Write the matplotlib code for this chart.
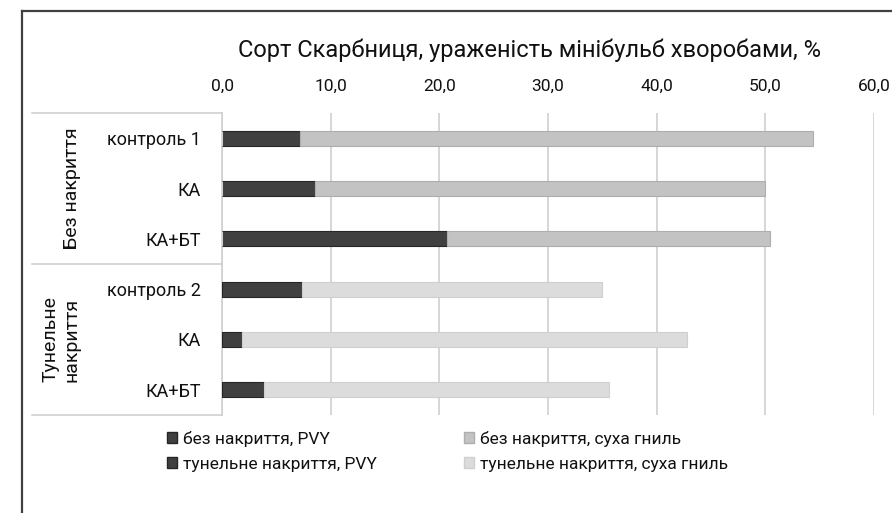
import matplotlib
matplotlib.use("Agg")
import matplotlib.pyplot as plt
from matplotlib.patches import Patch
from matplotlib.lines import Line2D
from matplotlib.ticker import FuncFormatter

plt.rcParams['font.family'] = ['Roboto', 'DejaVu Sans']

# дані: ураженість мінібульб, %
categories = ["контроль 1", "КА", "КА+БТ", "контроль 2", "КА", "КА+БТ"]
groups = ["Без накриття", "Тунельне\nнакриття"]
pvy_open = [7.2, 8.6, 20.7, 0, 0, 0]
rot_open = [47.2, 41.4, 29.7, 0, 0, 0]
pvy_tunnel = [0, 0, 0, 7.4, 1.8, 3.9]
rot_tunnel = [0, 0, 0, 27.6, 41.0, 31.7]
series_names = ["без накриття, PVY", "без накриття, суха гниль",
                "тунельне накриття, PVY", "тунельне накриття, суха гниль"]
xticks = [0, 10, 20, 30, 40, 50, 60]

W, H = 892, 513
fig = plt.figure(figsize=(W / 100, H / 100), dpi=100)
txt = "#111111"

# рамка зліва та зверху
fig.add_artist(Line2D([21.5 / W, 21.5 / W], [0, 1 - 11 / H], color="#404040", lw=1.6))
fig.add_artist(Line2D([21.5 / W, 1], [1 - 11 / H, 1 - 11 / H], color="#404040", lw=1.6))

ax = fig.add_axes([222 / W, 1 - 415 / H, 652 / W, 302 / H])

y = list(range(len(categories)))
h = 0.3
c_dark, c_mid, c_light = "#404040", "#c3c3c3", "#dcdcdc"

ax.barh(y, pvy_open, height=h, color=c_dark, edgecolor="#262626", lw=0.8, zorder=3)
ax.barh(y, rot_open, height=h, left=pvy_open, color=c_mid, edgecolor="#aeaeae", lw=0.8, zorder=3)
ax.barh(y, pvy_tunnel, height=h, color=c_dark, edgecolor="#262626", lw=0.8, zorder=3)
ax.barh(y, rot_tunnel, height=h, left=pvy_tunnel, color=c_light, edgecolor="#cfcfcf", lw=0.8, zorder=3)

ax.set_xlim(0, 60)
ax.set_ylim(len(categories) - 0.5, -0.5)
ax.set_xticks(xticks)
ax.xaxis.set_major_formatter(FuncFormatter(lambda v, p: f"{v:.1f}".replace(".", ",")))
ax.xaxis.tick_top()
ax.tick_params(axis="x", length=0, pad=14, labelsize=12.5, colors=txt)
ax.set_yticks(y)
ax.set_yticklabels(categories)
ax.tick_params(axis="y", length=0, pad=15, labelsize=13, colors=txt)
ax.grid(axis="x", color="#d0d0d0", lw=1.2, zorder=0)
for s in ["top", "right", "bottom"]:
    ax.spines[s].set_visible(False)
ax.spines["left"].set_color("#d0d0d0")
ax.spines["left"].set_linewidth(1.2)

# таблиця груп зліва
x0 = (32 - 222) / 652
for yy in [1, 0.5, 0]:
    ax.add_line(Line2D([x0, 0], [yy, yy], transform=ax.transAxes, color="#d0d0d0",
                       lw=1.2, clip_on=False))
ax.text((72 - 222) / 652, 0.75, groups[0], transform=ax.transAxes, rotation=90,
        ha="center", va="center", fontsize=14, color=txt)
ax.text((61 - 222) / 652, 0.25, groups[1], transform=ax.transAxes, rotation=90,
        ha="center", va="center", fontsize=14, color=txt, linespacing=1.25)

fig.text(529 / W, 1 - 50 / H, "Сорт Скарбниця, ураженість мінібульб хворобами, %",
         ha="center", va="center", fontsize=17, color=txt)

handles = [Patch(facecolor=c_dark, edgecolor="#262626"),
           Patch(facecolor=c_dark, edgecolor="#262626"),
           Patch(facecolor=c_mid, edgecolor="#aeaeae"),
           Patch(facecolor=c_light, edgecolor="#cfcfcf")]
labels = [series_names[0], series_names[2], series_names[1], series_names[3]]
fig.legend(handles, labels, ncol=2, loc="upper left",
           bbox_to_anchor=(151 / W, 1 - 415 / H), frameon=False,
           fontsize=12.5, handlelength=0.6, handleheight=0.6, handletextpad=0.35,
           columnspacing=5.0, labelspacing=0.6, labelcolor=txt)

fig.savefig("out.png", dpi=100)
